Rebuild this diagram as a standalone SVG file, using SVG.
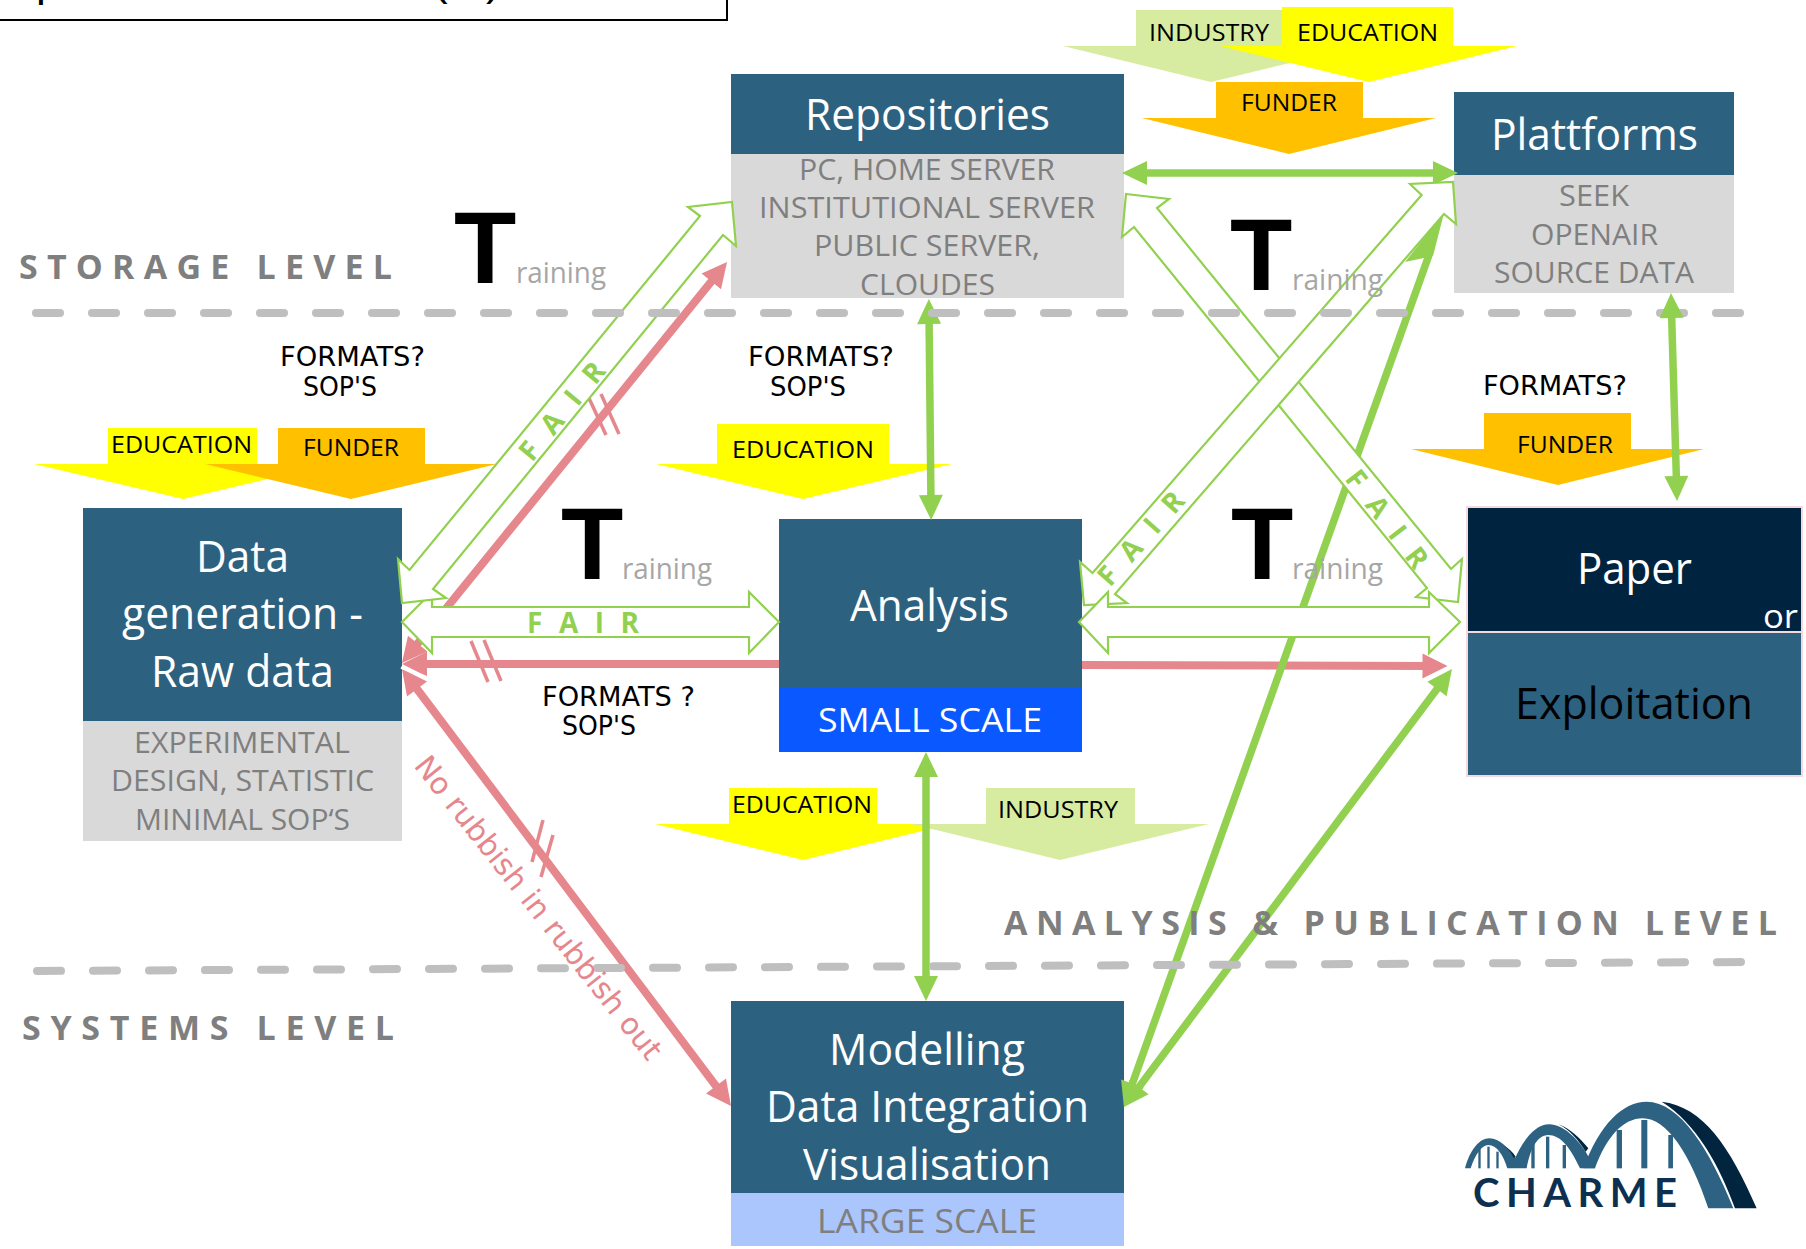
<svg xmlns="http://www.w3.org/2000/svg" width="1806" height="1249" viewBox="0 0 1806 1249">
<defs>
<style>
.hd{fill:#2d6180}.gr{fill:#d9d9d9}
.t{font-family:"Open Sans","Noto Sans",sans-serif;font-size:43px;font-weight:400;fill:#fff;text-anchor:start}
.g{font-family:"Open Sans","Noto Sans",sans-serif;font-size:30px;fill:#7f7f7f}
.lb{font-family:"Open Sans","Noto Sans",sans-serif;font-size:24px;fill:#000}
.cm{font-family:"DejaVu Sans",sans-serif;font-size:27px;fill:#000}
.lv{font-family:"Open Sans","Noto Sans",sans-serif;font-size:34px;font-weight:700;fill:#7f7f7f}
.bt{font-family:"Liberation Sans",Arial,sans-serif;font-size:102px;font-weight:700;fill:#000}
.ra{font-family:"Open Sans","Noto Sans",sans-serif;font-size:30px;fill:#a6a6a6}
.fa{font-family:"Open Sans","Noto Sans",sans-serif;font-size:28px;font-weight:700;fill:#92d050}
.hol{fill:#fff;stroke:#92d050;stroke-width:2.2;stroke-linejoin:miter}
.tg{fill:none;stroke:#92d050;stroke-width:7.5}
.tp{fill:none;stroke:#e5878c;stroke-width:8}
.tick{stroke:#e5878c;stroke-width:3.5;fill:none}
.dash{stroke:#bfbfbf;stroke-width:8;stroke-linecap:round;stroke-dasharray:24 32;fill:none}
.y{fill:#ffff00}.o{fill:#ffc000}.l{fill:#d7eca0}
</style>
<marker id="mg" markerUnits="userSpaceOnUse" markerWidth="26" markerHeight="26" refX="10" refY="12" orient="auto-start-reverse" overflow="visible"><path d="M0 0L25 12L0 24Z" fill="#92d050"/></marker>
<marker id="mp" markerUnits="userSpaceOnUse" markerWidth="26" markerHeight="26" refX="10" refY="12.5" orient="auto-start-reverse" overflow="visible"><path d="M0 0L25 12.5L0 25Z" fill="#e5878c"/></marker>
</defs>
<rect width="1806" height="1249" fill="#fff"/>

<g id="title-box">
<path d="M-2 20H727V-2" fill="none" stroke="#000" stroke-width="2"/>
<text x="36" y="-4" style="font-family:'Liberation Sans',sans-serif;font-size:44px">p</text>
<text x="433" y="-5" style="font-family:'Liberation Sans',sans-serif;font-size:44px">(</text>
<text x="486" y="-5" style="font-family:'Liberation Sans',sans-serif;font-size:44px">)</text>
</g>

<g id="node-repositories">
<rect class="hd" x="731" y="74" width="393" height="80"/><rect class="gr" x="731" y="154" width="393" height="144"/>
<text class="t" x="805" y="130" textLength="245" lengthAdjust="spacingAndGlyphs">Repositories</text>
<text class="g" x="799" y="180" textLength="256" lengthAdjust="spacingAndGlyphs">PC, HOME SERVER</text>
<text class="g" x="759" y="218" textLength="336" lengthAdjust="spacingAndGlyphs">INSTITUTIONAL SERVER</text>
<text class="g" x="814" y="256" textLength="226" lengthAdjust="spacingAndGlyphs">PUBLIC SERVER,</text>
<text class="g" x="860" y="295" textLength="135" lengthAdjust="spacingAndGlyphs">CLOUDES</text>
</g>
<g id="node-plattforms">
<rect class="hd" x="1454" y="92" width="280" height="83"/><rect class="gr" x="1454" y="175" width="280" height="118"/>
<text class="t" x="1491" y="150" textLength="207" lengthAdjust="spacingAndGlyphs">Plattforms</text>
<text class="g" x="1559" y="206" textLength="70" lengthAdjust="spacingAndGlyphs">SEEK</text>
<text class="g" x="1531" y="245" textLength="127" lengthAdjust="spacingAndGlyphs">OPENAIR</text>
<text class="g" x="1494" y="283" textLength="200" lengthAdjust="spacingAndGlyphs">SOURCE DATA</text>
</g>
<g id="node-data-generation">
<rect class="hd" x="83" y="508" width="319" height="213"/><rect class="gr" x="83" y="721" width="319" height="120"/>
<text class="t" x="196" y="572" textLength="93" lengthAdjust="spacingAndGlyphs">Data</text>
<text class="t" x="122" y="629" textLength="241" lengthAdjust="spacingAndGlyphs">generation -</text>
<text class="t" x="151" y="687" textLength="183" lengthAdjust="spacingAndGlyphs">Raw data</text>
<text class="g" x="134" y="753" textLength="216" lengthAdjust="spacingAndGlyphs">EXPERIMENTAL</text>
<text class="g" x="111" y="791" textLength="263" lengthAdjust="spacingAndGlyphs">DESIGN, STATISTIC</text>
<text class="g" x="135" y="830" textLength="215" lengthAdjust="spacingAndGlyphs">MINIMAL SOP‘S</text>
</g>
<g id="node-analysis">
<rect class="hd" x="779" y="519" width="303" height="169"/><rect fill="#0a58ff" x="779" y="688" width="303" height="64"/>
<text class="t" x="850" y="621" textLength="159" lengthAdjust="spacingAndGlyphs">Analysis</text>
<text class="g" x="818" y="732" textLength="224" lengthAdjust="spacingAndGlyphs" style="fill:#fff;font-size:33px">SMALL SCALE</text>
</g>
<g id="node-paper">
<rect x="1467" y="507" width="335" height="125" fill="#00233f" stroke="#f6d9dc" stroke-width="2"/>
<text class="t" x="1577" y="584" textLength="115" lengthAdjust="spacingAndGlyphs">Paper</text>
<text class="t" x="1763" y="628" textLength="35" lengthAdjust="spacingAndGlyphs" style="font-size:33px">or</text>
</g>
<g id="node-exploitation">
<rect x="1467" y="632" width="335" height="144" class="hd" stroke="#f6d9dc" stroke-width="2"/>
<text class="t" x="1515" y="719" textLength="238" lengthAdjust="spacingAndGlyphs" style="fill:#000">Exploitation</text>
</g>
<g id="node-modelling">
<rect class="hd" x="731" y="1001" width="393" height="192"/><rect fill="#abc6fd" x="731" y="1193" width="393" height="53"/>
<text class="t" x="829" y="1065" textLength="196" lengthAdjust="spacingAndGlyphs">Modelling</text>
<text class="t" x="766" y="1122" textLength="323" lengthAdjust="spacingAndGlyphs">Data Integration</text>
<text class="t" x="803" y="1180" textLength="248" lengthAdjust="spacingAndGlyphs">Visualisation</text>
<text class="g" x="817" y="1233" textLength="220" lengthAdjust="spacingAndGlyphs" style="font-size:33px">LARGE SCALE</text>
</g>

<g id="pressure-left">
<g id="education-left"><path class="y" d="M108 428H257V464H332L183 499L34 464H108Z"/><text class="lb" x="111" y="453" textLength="141" lengthAdjust="spacingAndGlyphs">EDUCATION</text></g>
<g id="funder-left"><path class="o" d="M278 428H425V464H497L351 499L205 464H278Z"/><text class="lb" x="303" y="456" textLength="96" lengthAdjust="spacingAndGlyphs">FUNDER</text></g>
</g>
<g id="education-centre"><path class="y" d="M717 424H889V464H952L803 499L656 464H717Z"/><text class="lb" x="732" y="458" textLength="142" lengthAdjust="spacingAndGlyphs">EDUCATION</text></g>
<g id="pressure-top">
<g id="industry-top"><path class="l" d="M1136 10H1290V46H1359L1211 82L1063 46H1136Z"/><text class="lb" x="1149" y="41" textLength="120" lengthAdjust="spacingAndGlyphs">INDUSTRY</text></g>
<g id="education-top"><path class="y" d="M1282 7H1453V46H1517L1369 82L1220 46H1282Z"/><text class="lb" x="1297" y="41" textLength="141" lengthAdjust="spacingAndGlyphs">EDUCATION</text></g>
<g id="funder-top"><path class="o" d="M1216 82H1363V118H1436L1289 154L1142 118H1216Z"/><text class="lb" x="1241" y="111" textLength="96" lengthAdjust="spacingAndGlyphs">FUNDER</text></g>
</g>
<g id="funder-right"><path class="o" d="M1484 413H1631V449H1704L1558 485L1411 449H1484Z"/><text class="lb" x="1517" y="453" textLength="96" lengthAdjust="spacingAndGlyphs">FUNDER</text></g>
<g id="pressure-lower">
<g id="education-lower"><path class="y" d="M729 788H877V824H951L803 860L655 824H729Z"/><text class="lb" x="732" y="813" textLength="140" lengthAdjust="spacingAndGlyphs">EDUCATION</text></g>
<g id="industry-lower"><path class="l" d="M986 788H1135V824H1209L1060 860L911 824H986Z"/><text class="lb" x="998" y="818" textLength="120" lengthAdjust="spacingAndGlyphs">INDUSTRY</text></g>
</g>

<g id="connectors">
<line class="tp" x1="411.4" y1="651.3" x2="717.6" y2="273.7" marker-start="url(#mp)" marker-end="url(#mp)"/>
<line class="tick" x1="588" y1="396" x2="606" y2="435"/><line class="tick" x1="601" y1="394" x2="619" y2="434"/>
<line class="tp" x1="779" y1="664" x2="417" y2="664" marker-end="url(#mp)"/>
<line class="tick" x1="471" y1="641" x2="488" y2="682"/><line class="tick" x1="484" y1="640" x2="501" y2="681"/>
<line class="tp" x1="1082" y1="665" x2="1432.5" y2="666" marker-end="url(#mp)"/>
<line class="tp" x1="411" y1="681" x2="722" y2="1094" marker-start="url(#mp)" marker-end="url(#mp)"/>
<line x1="401" y1="667.5" x2="426" y2="677" stroke="#fff" stroke-width="2.5"/>
<line class="tick" x1="543" y1="820" x2="532" y2="862"/><line class="tick" x1="553" y1="835" x2="541" y2="877"/>
<line class="tg" x1="1137" y1="173" x2="1443" y2="173" marker-start="url(#mg)" marker-end="url(#mg)"/>
<line class="tg" x1="929" y1="314" x2="931" y2="505" marker-start="url(#mg)" marker-end="url(#mg)"/>
<line class="tg" x1="926" y1="767" x2="926" y2="986" marker-start="url(#mg)" marker-end="url(#mg)"/>
<line class="tg" x1="1129" y1="1093" x2="1429" y2="255" marker-start="url(#mg)"/>
<polygon points="1444,213 1433,256 1405,262" fill="#92d050"/>
<line class="tg" x1="1133" y1="1095" x2="1443" y2="681" marker-start="url(#mg)" marker-end="url(#mg)"/>
<polygon class="hol" points="1126,194 1169,199 1157,208 1451,569 1462,559 1458,602 1416,597 1427,588 1134,227 1122,237"/>
<polygon class="hol" points="1421.6,195 1410,184 1453,182 1456,224 1444,214 1115,594 1127,603 1084,605 1080,562 1092.5,573"/>
<polygon class="hol" points="402,622 432,592 432,607 749,607 749,592 779,622 749,653 749,637 432,637 432,653"/>
<polygon class="hol" points="1079,622 1108,592 1108,607 1429,607 1429,592 1460,622 1429,653 1429,637 1108,637 1108,653"/>
<polygon class="hol" points="700,216 688,207 732,202 736,246 723,235 433,589 446,598 402,603 398,559 409.5,570"/>
</g>

<g id="levels">
<line class="dash" x1="36" y1="313" x2="1744" y2="313"/>
<line class="dash" x1="37" y1="971" x2="1745" y2="962"/>
<text class="lv" x="19" y="279" textLength="373">STORAGE LEVEL</text>
<text class="lv" x="1004" y="935" textLength="773">ANALYSIS &amp; PUBLICATION LEVEL</text>
<text class="lv" x="22" y="1040" textLength="372">SYSTEMS LEVEL</text>
</g>

<g id="connector-plattforms-paper">
<line class="tg" x1="1671.4" y1="308" x2="1676.6" y2="486" marker-start="url(#mg)" marker-end="url(#mg)"/>
</g>

<g id="fair-labels">
<text class="fa" x="527" y="633" textLength="112">FAIR</text>
<text class="fa" transform="translate(532 463) rotate(-50.6)" textLength="118">FAIR</text>
<text class="fa" transform="translate(1110 588) rotate(-48.5)" textLength="115">FAIR</text>
<text class="fa" transform="translate(1344 479) rotate(52.4)" textLength="116">FAIR</text>
<text transform="translate(413 766) rotate(51.6)" textLength="378" lengthAdjust="spacingAndGlyphs" style="font-family:'DejaVu Sans',sans-serif;font-size:30px;fill:#e5878c">No rubbish in rubbish out</text>
</g>

<g id="training">
<text class="bt" x="454" y="283">T</text><text class="ra" x="516" y="283" textLength="90" lengthAdjust="spacingAndGlyphs">raining</text>
<text class="bt" x="1230" y="290">T</text><text class="ra" x="1292" y="290" textLength="91" lengthAdjust="spacingAndGlyphs">raining</text>
<text class="bt" x="561" y="579">T</text><text class="ra" x="622" y="579" textLength="90" lengthAdjust="spacingAndGlyphs">raining</text>
<text class="bt" x="1231" y="579">T</text><text class="ra" x="1292" y="579" textLength="91" lengthAdjust="spacingAndGlyphs">raining</text>
</g>

<g id="questions">
<text class="cm" x="280" y="366" textLength="145" lengthAdjust="spacingAndGlyphs">FORMATS?</text>
<text class="cm" x="303" y="396" textLength="74" lengthAdjust="spacingAndGlyphs">SOP'S</text>
<text class="cm" x="748" y="366" textLength="146" lengthAdjust="spacingAndGlyphs">FORMATS?</text>
<text class="cm" x="770" y="396" textLength="76" lengthAdjust="spacingAndGlyphs">SOP'S</text>
<text class="cm" x="1483" y="395" textLength="144" lengthAdjust="spacingAndGlyphs">FORMATS?</text>
<text class="cm" x="542" y="706" textLength="153" lengthAdjust="spacingAndGlyphs">FORMATS ?</text>
<text class="cm" x="562" y="735" textLength="74" lengthAdjust="spacingAndGlyphs">SOP'S</text>
</g>

<g id="logo">
<g transform="translate(1420 1080) scale(.3333)">
<path d="M490 265C540 130 610 65 680 65C780 65 870 210 940 385L865 385C810 220 740 115 668 115C610 115 560 170 525 265Z" fill="#2e6282"/>
<path d="M725 65C850 80 930 200 1010 385L945 385C900 260 830 130 725 65Z" fill="#01243f"/>
<path d="M135 265C150 210 178 175 208 175C240 175 265 205 285 235C310 180 345 133 388 133C430 133 470 175 497 215L525 265L480 265C450 200 420 165 385 165C350 165 330 210 320 265L262 265C250 225 230 195 205 195C185 195 165 225 152 265Z" fill="#2e6282"/>
<path d="M250 195C265 205 278 215 287 230L282 235C272 215 262 205 250 195ZM415 133C450 145 480 175 505 205L497 215C475 180 450 150 415 133Z" fill="#01243f"/>
<g fill="#2e6282"><rect x="175" y="205" width="7" height="60"/><rect x="202" y="200" width="7" height="65"/><rect x="229" y="215" width="7" height="50"/><rect x="334" y="190" width="10" height="75"/><rect x="378" y="170" width="10" height="95"/><rect x="428" y="195" width="10" height="70"/><rect x="590" y="150" width="16" height="115"/><rect x="664" y="120" width="18" height="145"/><rect x="745" y="165" width="14" height="100"/></g>
</g>
<text x="1473" y="1207" textLength="204" style="font-family:Lato,'Open Sans',sans-serif;font-size:40px;font-weight:700;fill:#0e3050">CHARME</text>
</g>
</svg>
